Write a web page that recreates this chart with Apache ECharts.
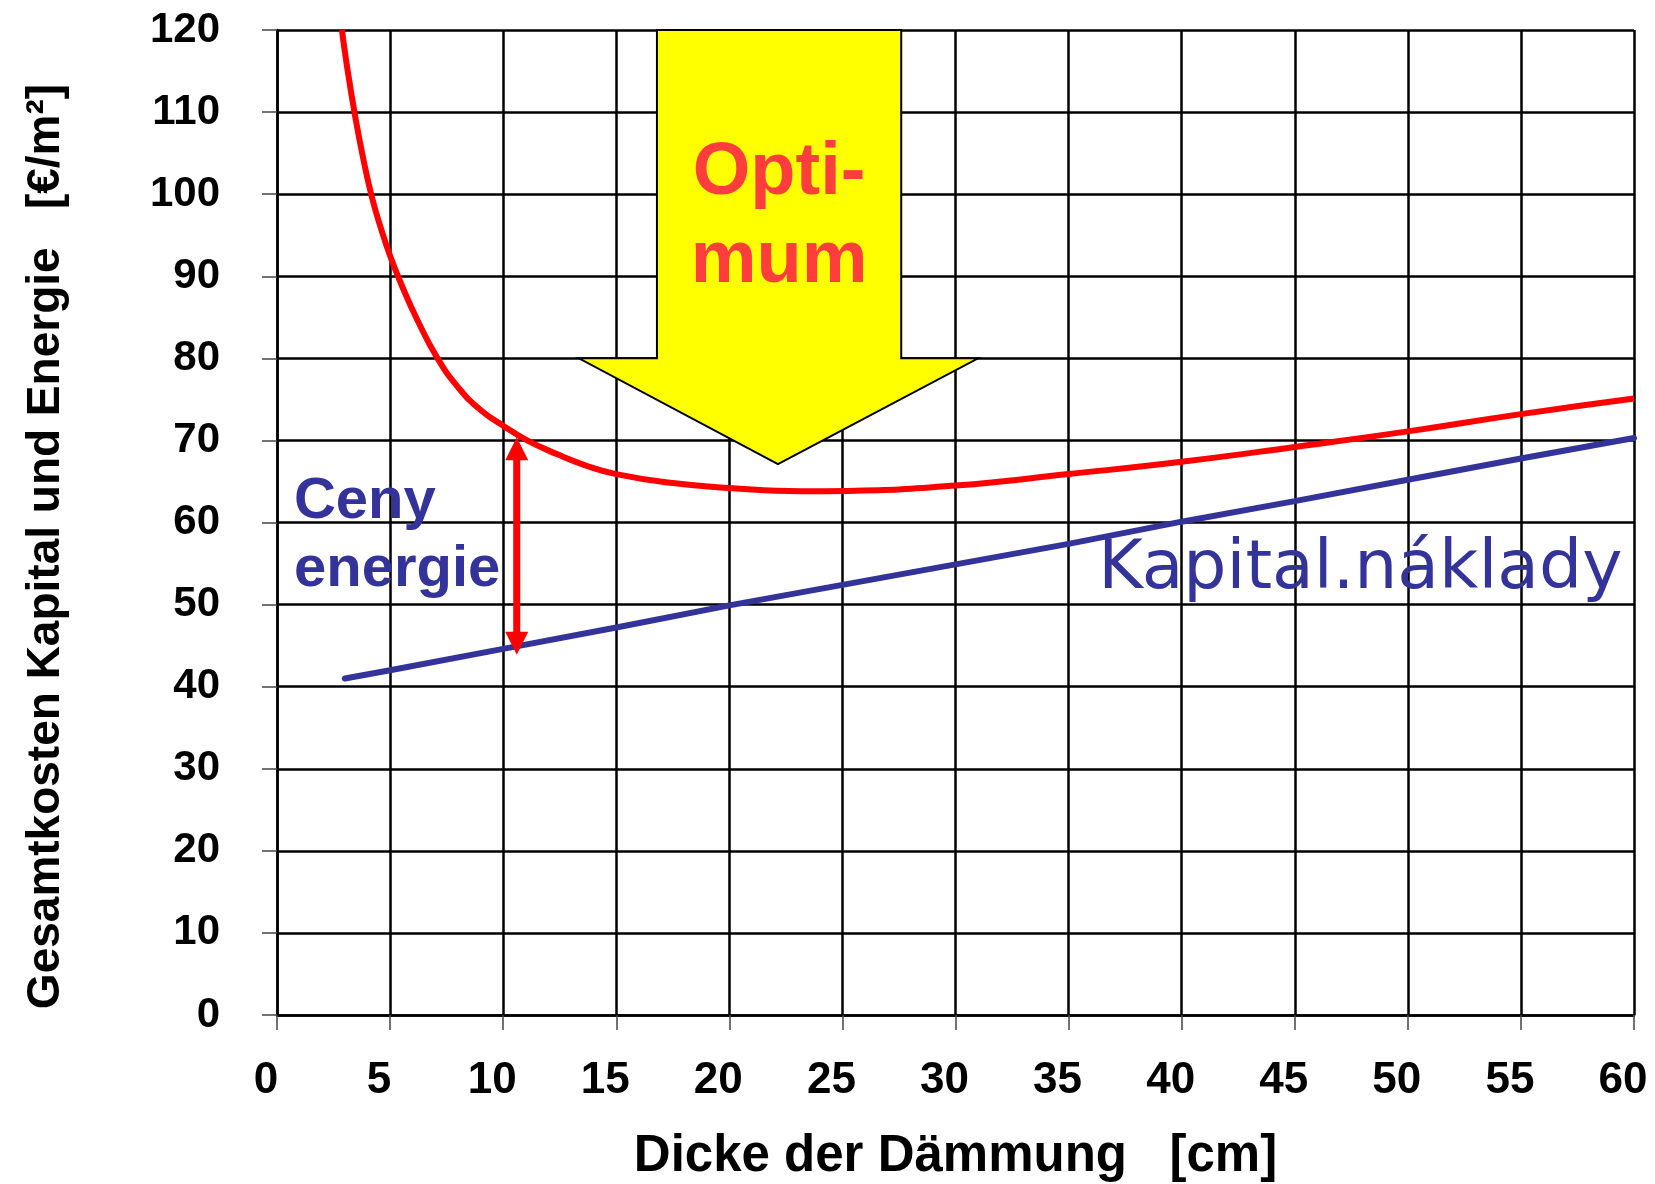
<!DOCTYPE html>
<html>
<head>
<meta charset="utf-8">
<title>Gesamtkosten Kapital und Energie</title>
<script src="https://cdn.jsdelivr.net/npm/echarts@6/dist/echarts.min.js"></script>
<style>
    html, body { margin: 0; padding: 0; background: #fff; }
    #chart { width: 1655px; height: 1184px; }
</style>
</head>
<body>
<div id="chart"></div>
<script>
// Axes (Dicke der Dämmung in cm, Kosten in €/m²)
const xMin = 0, xMax = 60, xStep = 5;
const yMin = 0, yMax = 120, yStep = 10;

// Capital cost line
const capitalX = [3, 5, 10, 15, 20, 25, 30, 35, 40, 45, 50, 55, 60];
const capitalCost = [41.0, 42.0, 44.6, 47.2, 49.9, 52.4, 54.9, 57.4, 60.1, 62.6, 65.2, 67.8, 70.3];

// Total cost curve (capital + energy)
const totalX = [2.87, 3.1, 3.45, 3.8, 4.2, 4.6, 5.0, 5.5, 6.2, 7.1, 8.0, 9.0, 10.0, 11.0, 12.4,
    13.6, 15.0, 17.5, 20.0, 23.2, 25.2, 30.0, 35.0, 40.0, 45.0, 50.0, 55.0, 60.0];
const totalCost = [120, 115.5, 109.6, 104.5, 99.6, 95.8, 92.5, 89.0, 84.7, 80.0, 76.5, 73.7, 71.8, 70.1, 68.3,
    67.0, 65.9, 64.8, 64.2, 63.8, 63.85, 64.5, 65.9, 67.4, 69.2, 71.1, 73.2, 75.1];

// Yellow "Optimum" arrow outline (data coordinates)
const optimumArrowX = [16.8, 27.6, 27.6, 31.0, 22.15, 13.35, 16.8];
const optimumArrowY = [120, 120, 80, 80, 67.1, 80, 80];
const optimumLabel = 'Opti-\nmum';
const optimumLabelAt = [22.2, 97.1];

// Red double arrow for the energy share
const energyArrowX = 10.6;
const energyArrowTop = 70.4;
const energyArrowBottom = 43.9;
const energyLabel = 'Ceny\nenergie';
const energyLabelAt = [0.75, 58.4];

const capitalLabel = 'Kapital.náklady';
const capitalLabelAt = [47.9, 54.15];

const FONT = '"Liberation Sans", Arial, sans-serif';
const BLUE = '#333399';
const RED = '#ff0000';

const chart = echarts.init(document.getElementById('chart'));

/**
 * Zips two arrays into [x, y] pairs
 */
function pairs(xs, ys) {
    return xs.map((x, i) => [x, ys[i]]);
}

/**
 * Draws the yellow arrow and the red double arrow
 */
function renderArrows(params, api) {
    const outline = optimumArrowX.map((x, i) => api.coord([x, optimumArrowY[i]]));
    const top = api.coord([energyArrowX, energyArrowTop]);
    const bottom = api.coord([energyArrowX, energyArrowBottom]);
    const head = 23, half = 11.5;
    return {
        type: 'group',
        children: [
            {
                type: 'polygon',
                shape: { points: outline },
                style: { fill: '#ffff00', stroke: '#000', lineWidth: 2 }
            },
            {
                type: 'line',
                shape: { x1: top[0], y1: top[1] + head - 2, x2: bottom[0], y2: bottom[1] - head + 2 },
                style: { stroke: RED, lineWidth: 7 }
            },
            {
                type: 'polygon',
                shape: { points: [top, [top[0] - half, top[1] + head], [top[0] + half, top[1] + head]] },
                style: { fill: RED }
            },
            {
                type: 'polygon',
                shape: { points: [bottom, [bottom[0] - half, bottom[1] - head], [bottom[0] + half, bottom[1] - head]] },
                style: { fill: RED }
            }
        ]
    };
}

/**
 * Draws the free text annotations
 */
function renderLabels(params, api) {
    const opt = api.coord(optimumLabelAt);
    const en = api.coord(energyLabelAt);
    const cap = api.coord(capitalLabelAt);
    return {
        type: 'group',
        children: [
            {
                type: 'text', x: opt[0], y: opt[1],
                style: {
                    text: optimumLabel, fill: '#ff3d3d', fontFamily: FONT, fontWeight: 'bold',
                    fontSize: 74, lineHeight: 88, align: 'center', verticalAlign: 'middle'
                }
            },
            {
                type: 'text', x: en[0], y: en[1],
                style: {
                    text: energyLabel, fill: BLUE, fontFamily: FONT, fontWeight: 'bold',
                    fontSize: 58, lineHeight: 68, align: 'left', verticalAlign: 'middle'
                }
            },
            {
                type: 'text', x: cap[0], y: cap[1],
                style: {
                    text: capitalLabel, fill: BLUE, fontFamily: '"DejaVu Sans", sans-serif',
                    fontSize: 68, align: 'center', verticalAlign: 'middle'
                }
            }
        ]
    };
}

const gridLine = { color: '#000', width: 2.5 };

const option = {
    animation: false,
    backgroundColor: '#fff',
    grid: { left: 277, top: 30, right: 21, bottom: 169, outerBoundsMode: 'none', containLabel: false },
    xAxis: {
        type: 'value',
        min: xMin, max: xMax, interval: xStep,
        name: 'Dicke der Dämmung   [cm]',
        nameLocation: 'middle',
        nameGap: 116,
        nameMoveOverlap: false,
        nameTextStyle: { color: '#000', fontFamily: FONT, fontWeight: 'bold', fontSize: 51 },
        axisLine: { show: true, lineStyle: gridLine },
        axisTick: { show: true, inside: false, length: 15, lineStyle: { color: '#444', width: 1.5 } },
        axisLabel: {
            color: '#000', fontFamily: FONT, fontWeight: 'bold', fontSize: 44,
            margin: 44, padding: [0, 22, 0, 0]
        },
        splitLine: { show: true, lineStyle: gridLine }
    },
    yAxis: {
        type: 'value',
        min: yMin, max: yMax, interval: yStep,
        name: 'Gesamtkosten Kapital und Energie   [€/m²]',
        nameLocation: 'middle',
        nameGap: 208,
        nameMoveOverlap: false,
        nameTextStyle: {
            color: '#000', fontFamily: FONT, fontWeight: 'bold', fontSize: 46,
            padding: [0, 48, 0, 0]
        },
        axisLine: { show: true, lineStyle: gridLine },
        axisTick: { show: true, inside: false, length: 15, lineStyle: { color: '#444', width: 1.5 } },
        axisLabel: { color: '#000', fontFamily: FONT, fontWeight: 'bold', fontSize: 42, margin: 57 },
        splitLine: { show: true, lineStyle: gridLine }
    },
    series: [
        {
            name: 'Kapital',
            type: 'line',
            data: pairs(capitalX, capitalCost),
            showSymbol: false,
            lineStyle: { color: BLUE, width: 6, cap: 'round' },
            z: 3
        },
        {
            name: 'Gesamt',
            type: 'line',
            data: pairs(totalX, totalCost),
            smooth: 0.5,
            smoothConstraint: false,
            showSymbol: false,
            lineStyle: { color: RED, width: 6 },
            z: 4
        },
        {
            type: 'custom',
            data: [[energyArrowX, energyArrowTop]],
            renderItem: renderArrows,
            clip: false,
            z: 5
        },
        {
            type: 'custom',
            data: [optimumLabelAt],
            renderItem: renderLabels,
            clip: false,
            z: 6
        }
    ]
};

chart.setOption(option);
</script>
</body>
</html>
